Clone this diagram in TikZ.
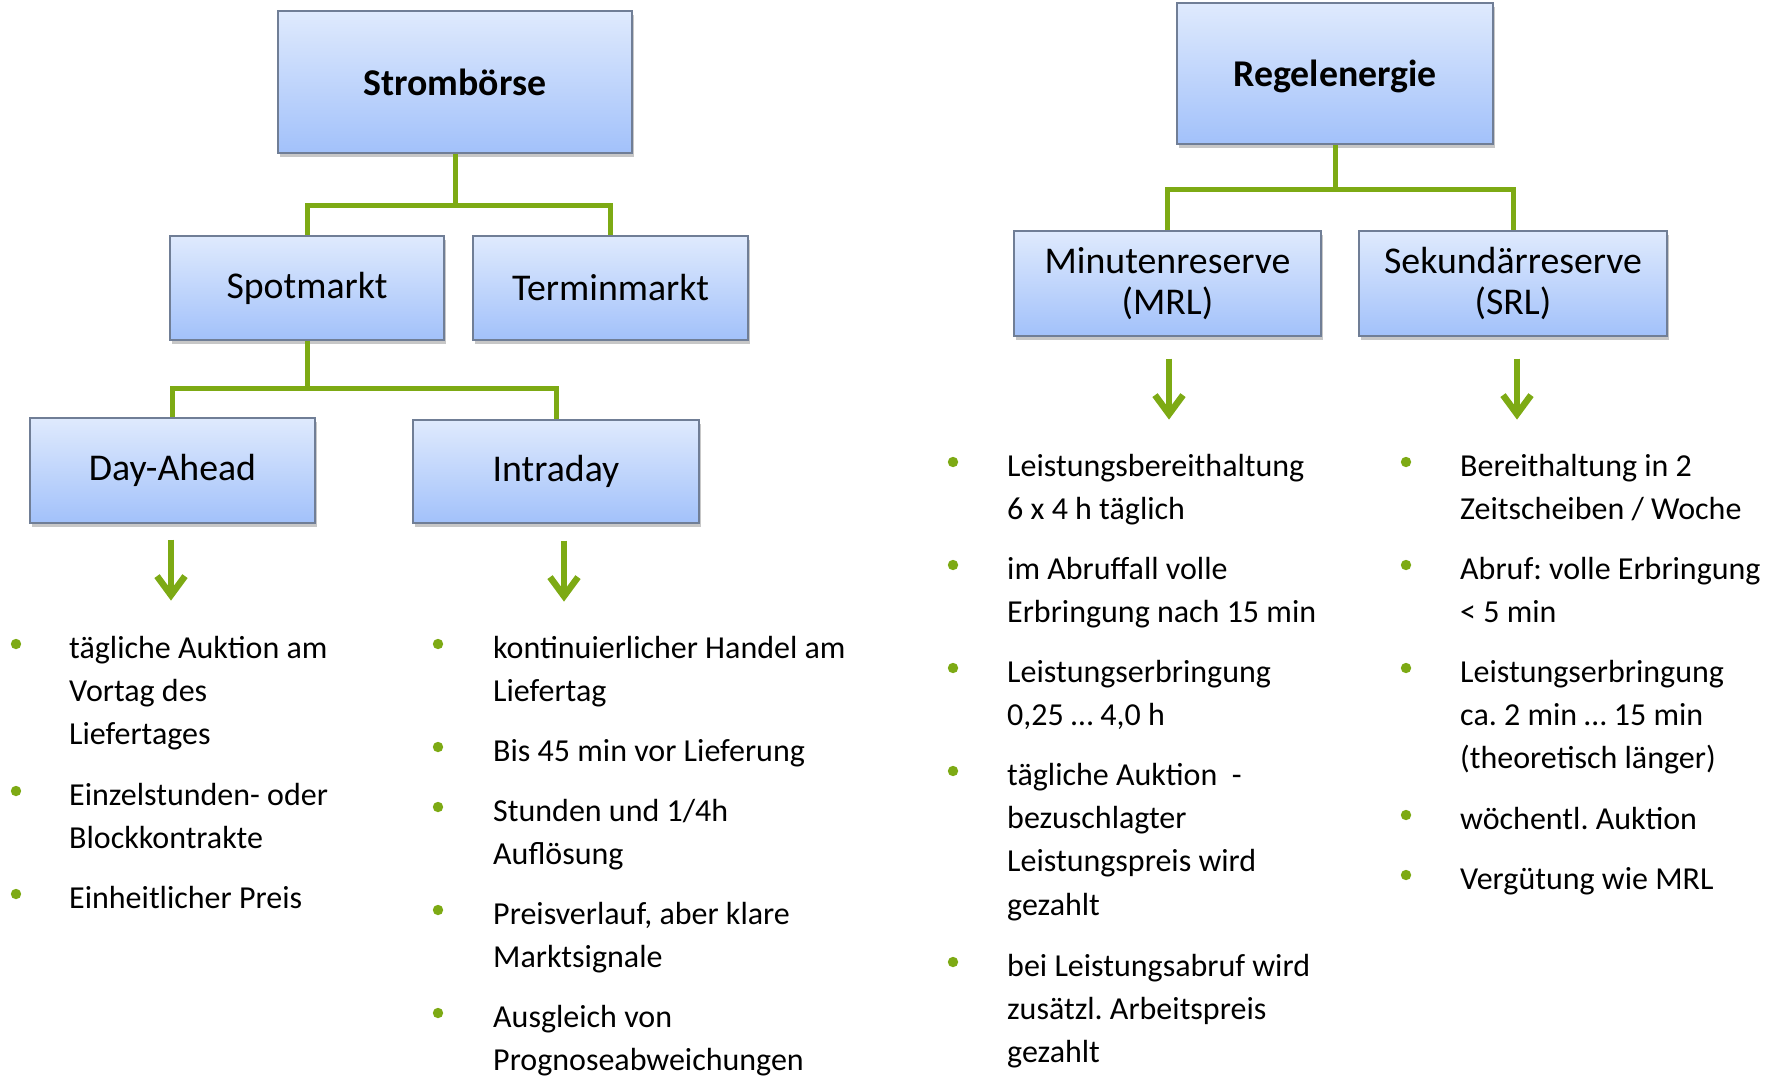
\documentclass[tikz,border=0pt]{standalone}
\usepackage{fontspec}
\setmainfont{Carlito}
\frenchspacing
\usetikzlibrary{arrows.meta,shadows,calc}
\definecolor{lgreen}{RGB}{125,170,20}
\definecolor{boxtop}{RGB}{223,234,253}
\definecolor{boxbot}{RGB}{162,193,250}
\definecolor{boxline}{RGB}{112,126,150}
\newcommand\bitem[5]{%
  \fill[lgreen] (#2,#4-14) circle (5.2);
  \node[item] (#1) at (#3,#4-30.31) {\strut #5};
}
\begin{document}
\frenchspacing
\begin{tikzpicture}[x=1pt,y=-1pt,
  box/.style={draw=boxline, line width=1.2pt, top color=boxtop, bottom color=boxbot,
    inner sep=0pt, align=center, font=\fontsize{37.8}{41}\selectfont,
    drop shadow={shadow xshift=1.5pt, shadow yshift=-4pt, opacity=0.22, fill=black}},
  conn/.style={draw=lgreen, line width=5pt},
  arr/.style={draw=lgreen, line width=6.5pt, -{Straight Barb[length=19pt,width=28pt]}},
  item/.style={anchor=north west, inner sep=0pt, align=left, font=\fontsize{32}{43.3}\selectfont}
]
\useasboundingbox (0,0) rectangle (1779,1076);

% boxes
\node[box, font=\fontsize{37.8}{41}\selectfont\bfseries, minimum width=354, minimum height=142] (strom) at (455,82) {Strombörse};
\node[box, minimum width=274, minimum height=104] (spot) at (307,288) {Spotmarkt};
\node[box, minimum width=275, minimum height=104] (term) at (610.5,288) {Terminmarkt};
\node[box, minimum width=285, minimum height=105] (da) at (172.5,470.5) {Day-Ahead};
\node[box, minimum width=286, minimum height=103] (id) at (556,471.5) {Intraday};
\node[box, font=\fontsize{37.8}{41}\selectfont\bfseries, text depth=0pt, minimum width=316, minimum height=141] (regel) at (1335,73.5) {Regelenergie};
\node[box, minimum width=307, minimum height=105] (mrl) at (1167.5,283.5) {Minutenreserve\\(MRL)\hspace{38pt}};
\node[box, minimum width=308, minimum height=105] (srl) at (1513,283.5) {Sekundärreserve\\(SRL)};

% connectors
\coordinate (j1) at (455,205);
\coordinate (j2) at (307,388);
\coordinate (j3) at (1335,189);
\draw[conn] (strom.south) -- (j1);
\draw[conn] (spot.north) |- (j1) -| (term.north);
\draw[conn] (spot.south) -- (j2);
\draw[conn] (da.north) |- (j2) -| (id.north);
\draw[conn] (regel.south) -- (j3);
\draw[conn] (mrl.north) |- (j3) -| (srl.north);

% arrows
\draw[arr] ([xshift=-1.5pt,yshift=-16pt]da.south) -- ++(0,61);
\draw[arr] ([xshift=8pt,yshift=-17pt]id.south) -- ++(0,61);
\draw[arr] ([xshift=1.5pt,yshift=-22pt]mrl.south) -- ++(0,61);
\draw[arr] ([xshift=4pt,yshift=-22pt]srl.south) -- ++(0,61);

% Day-Ahead list
\bitem{a1}{16}{69}{658}{tägliche Auktion am\\Vortag des\\Liefertages}
\bitem{a2}{16}{69}{805}{Einzelstunden- oder\\Blockkontrakte}
\bitem{a3}{16}{69}{908}{Einheitlicher Preis}
% Intraday list
\bitem{b1}{438}{493}{658}{kontinuierlicher Handel am\\Liefertag}
\bitem{b2}{438}{493}{761}{Bis 45 min vor Lieferung}
\bitem{b3}{438}{493}{821}{Stunden und 1/4h\\Auflösung}
\bitem{b4}{438}{493}{924}{Preisverlauf, aber klare\\Marktsignale}
\bitem{b5}{438}{493}{1027}{Ausgleich von\\Prognoseabweichungen}
% MRL list
\bitem{c1}{953}{1007}{476}{Leistungsbereithaltung\\6 x 4 h täglich}
\bitem{c2}{953}{1007}{579}{im Abruffall volle\\Erbringung nach 15 min}
\bitem{c3}{953}{1007}{682}{Leistungserbringung\\0,25 … 4,0 h}
\bitem{c4}{953}{1007}{785}{tägliche Auktion~~-\\bezuschlagter\\Leistungspreis wird\\gezahlt}
\bitem{c5}{953}{1007}{976}{bei Leistungsabruf wird\\zusätzl. Arbeitspreis\\gezahlt}
% SRL list
\bitem{d1}{1406}{1460}{476}{Bereithaltung in 2\\Zeitscheiben / Woche}
\bitem{d2}{1406}{1460}{579}{Abruf: volle Erbringung\\< 5 min}
\bitem{d3}{1406}{1460}{682}{Leistungserbringung\\ca. 2 min … 15 min\\(theoretisch länger)}
\bitem{d4}{1406}{1460}{829}{wöchentl. Auktion}
\bitem{d5}{1406}{1460}{889}{Vergütung wie MRL}
\end{tikzpicture}
\end{document}
